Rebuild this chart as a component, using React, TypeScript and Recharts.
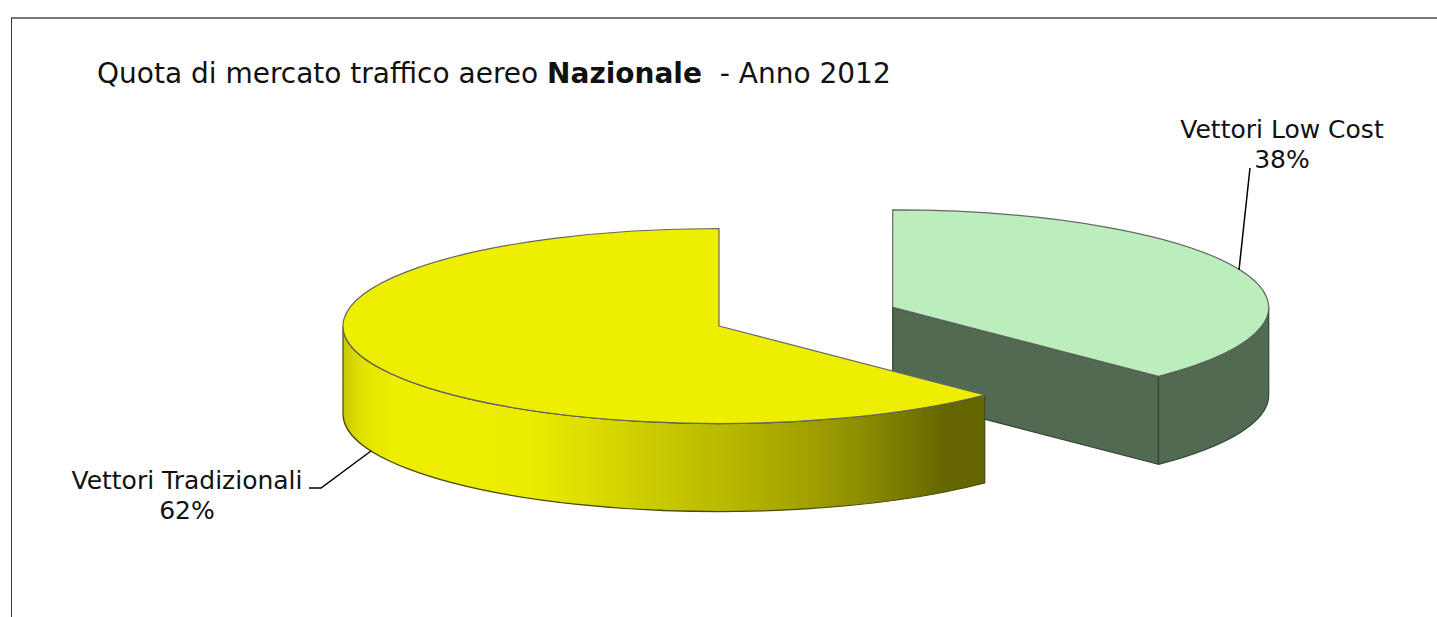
import { Cell, Pie, PieChart } from 'recharts'

const SLICE_NAMES = ['Vettori Low Cost', 'Vettori Tradizionali']
const SLICE_SHARES = [37.51, 62.49]
const SLICE_EXPLODE = [0.5, 0]
const TOP_COLORS = ['#bbedbd', '#eeee00']
const SIDE_FILLS = ['#536a52', 'url(#yellowSide)']
const EDGE_COLORS = ['#2f4433', '#4a4a08']

const YELLOW_STOPS = [
  ['0%', '#c8c800'],
  ['3%', '#e2e200'],
  ['8%', '#eeee00'],
  ['29%', '#ecec00'],
  ['40%', '#dada00'],
  ['48%', '#cbcb00'],
  ['60%', '#b8b800'],
  ['72%', '#a2a200'],
  ['80%', '#8f8f00'],
  ['94%', '#656500'],
  ['100%', '#666600'],
]

const WIDTH = 1437
const HEIGHT = 617
const RADIUS = 376
const SQUASH = 97.5 / 376
const DEPTH = 88
const RAD = Math.PI / 180

const pieData = SLICE_NAMES.map((name, i) => ({ name, value: SLICE_SHARES[i], explode: SLICE_EXPLODE[i] }))

function Slice3D(props: any) {
  const { cx, cy, outerRadius, startAngle, endAngle, midAngle, fill, payload } = props
  const index = SLICE_NAMES.indexOf(payload.name)
  const shift = payload.explode * outerRadius
  const ox = cx + shift * Math.cos(midAngle * RAD)
  const oy = cy - shift * Math.sin(midAngle * RAD) * SQUASH
  const rx = outerRadius
  const ry = outerRadius * SQUASH
  const px = (a: number) => ox + rx * Math.cos(a * RAD)
  const py = (a: number) => oy - ry * Math.sin(a * RAD)
  const large = startAngle - endAngle > 180 ? 1 : 0

  // top face
  const top = `M${ox},${oy} L${px(startAngle)},${py(startAngle)} A${rx},${ry} 0 ${large} 1 ${px(endAngle)},${py(endAngle)} Z`

  // outer wall: only the part of the arc below the horizontal shows
  const from = Math.min(startAngle, 0)
  const to = Math.max(endAngle, -180)
  const side =
    from > to
      ? `M${px(from)},${py(from)} A${rx},${ry} 0 0 1 ${px(to)},${py(to)} L${px(to)},${py(to) + DEPTH} A${rx},${ry} 0 0 0 ${px(from)},${py(from) + DEPTH} Z`
      : null

  // cut wall at the end of the sweep, seen only when it faces the viewer
  const cut =
    Math.cos(endAngle * RAD) > 0.01
      ? `M${ox},${oy} L${px(endAngle)},${py(endAngle)} L${px(endAngle)},${py(endAngle) + DEPTH} L${ox},${oy + DEPTH} Z`
      : null

  return (
    <g>
      {cut && <path d={cut} fill={SIDE_FILLS[index]} stroke={EDGE_COLORS[index]} strokeWidth={1.2} />}
      {side && <path d={side} fill={SIDE_FILLS[index]} stroke={EDGE_COLORS[index]} strokeWidth={1.2} />}
      <path d={top} fill={fill} stroke="#666" strokeWidth={1.2} />
    </g>
  )
}

const LABEL_LAYOUT = [
  { x: 1282, y: 138, line: '1250,168 1239,270' },
  { x: 187, y: 489, line: '309,488 321,488 371,451' },
]

function SliceLabel(props: any) {
  const index = SLICE_NAMES.indexOf(props.name)
  const place = LABEL_LAYOUT[index]
  return (
    <g>
      <polyline points={place.line} fill="none" stroke="#000" strokeWidth={1.5} />
      <text x={place.x} y={place.y} textAnchor="middle" fontFamily="'DejaVu Sans'" fontSize={25} fill="#111">
        <tspan x={place.x}>{props.name}</tspan>
        <tspan x={place.x} dy={30}>{`${Math.round(props.percent * 100)}%`}</tspan>
      </text>
    </g>
  )
}

export default function App() {
  return (
    <div style={{ position: 'absolute', left: 0, top: 0, width: WIDTH, height: HEIGHT, overflow: 'hidden', background: '#fff' }}>
      <div style={{ position: 'absolute', left: 11, top: 17, right: 0, bottom: 0, borderTop: '2px solid #777', borderLeft: '1px solid #333' }} />
      <div
        style={{
          position: 'absolute',
          left: 97,
          top: 58,
          fontFamily: "'DejaVu Sans'",
          fontSize: 28,
          color: '#111',
          whiteSpace: 'pre',
          lineHeight: '32px',
        }}
      >
        Quota di mercato traffico aereo <b>Nazionale</b> {' '}- Anno 2012
      </div>
      <div style={{ position: 'absolute', left: 0, top: 0 }}>
        <PieChart width={WIDTH} height={HEIGHT} margin={{ top: 0, right: 0, bottom: 0, left: 0 }}>
          <defs>
            <linearGradient id="yellowSide" x1="0" y1="0" x2="1" y2="0">
              {YELLOW_STOPS.map(([offset, color]) => (
                <stop key={offset} offset={offset} stopColor={color} />
              ))}
            </linearGradient>
          </defs>
          <Pie
            data={pieData}
            dataKey="value"
            nameKey="name"
            cx={719}
            cy={326}
            innerRadius={0}
            outerRadius={RADIUS}
            startAngle={90}
            endAngle={-270}
            paddingAngle={0}
            shape={Slice3D}
            label={SliceLabel}
            labelLine={false}
            isAnimationActive={false}
          >
            {pieData.map((item, index) => (
              <Cell key={item.name} fill={TOP_COLORS[index]} />
            ))}
          </Pie>
        </PieChart>
      </div>
    </div>
  )
}
